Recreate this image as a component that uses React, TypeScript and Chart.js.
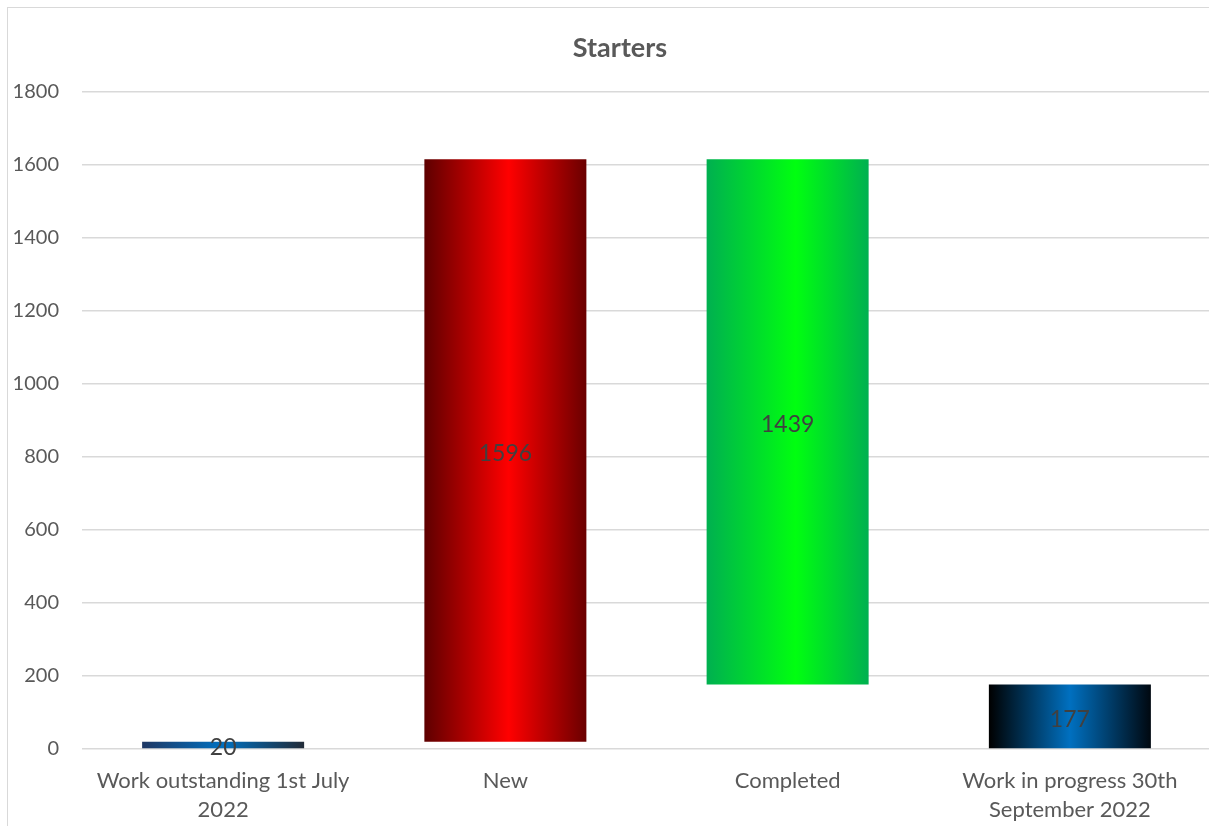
import React, { useEffect, useRef } from "react";
import { Chart, registerables } from "chart.js";

Chart.register(...registerables);

// Waterfall steps for the quarter
const categories: (string | string[])[] = [
  ["Work outstanding 1st July", "2022"],
  "New",
  "Completed",
  ["Work in progress 30th", "September 2022"],
];
const stepValues = [20, 1596, 1439, 177];
const stepKinds = ["total", "increase", "decrease", "total"];
const yTicks = [0, 200, 400, 600, 800, 1000, 1200, 1400, 1600, 1800];

// Horizontal gradient stops for each bar (edge, centre, edge)
const barStops: [number, string][][] = [
  [[0, "#1f3864"], [0.5, "#0070c0"], [1, "#222b38"]],
  [[0, "#5e0000"], [0.52, "#ff0000"], [1, "#6a0000"]],
  [[0, "#00b050"], [0.55, "#00ff10"], [1, "#00b050"]],
  [[0, "#000000"], [0.5, "#0070c0"], [1, "#000810"]],
];
const flatColors = ["#0070c0", "#ff0000", "#00ff10", "#0070c0"];

const BAR_PCT = 0.574;
const FONT = "Lato, 'Open Sans', sans-serif";
// The chart frame runs past the right edge of the page; the frame clips it
const FRAME_W = 1201;
const FRAME_H = 818;
const CANVAS_W = 1224;
const CANVAS_H = 818;

// Floating [low, high] ranges built from the running total
function buildRanges(): [number, number][] {
  const out: [number, number][] = [];
  let running = 0;
  stepValues.forEach((v, i) => {
    const kind = stepKinds[i];
    if (kind === "total") {
      running = v;
      out.push([0, v]);
    } else if (kind === "increase") {
      out.push([running, running + v]);
      running += v;
    } else {
      out.push([running - v, running]);
      running -= v;
    }
  });
  return out;
}

const valueLabels = {
  id: "valueLabels",
  afterDatasetsDraw(chart: any) {
    const ctx = chart.ctx;
    const meta = chart.getDatasetMeta(0);
    ctx.save();
    ctx.font = `23px ${FONT}`;
    ctx.fillStyle = "#404040";
    ctx.textAlign = "center";
    ctx.textBaseline = "middle";
    meta.data.forEach((bar: any, i: number) => {
      const y = (bar.y + bar.base) / 2;
      ctx.fillText(String(stepValues[i]), bar.x, y + 3);
    });
    ctx.restore();
  },
};

export default function App() {
  const canvasRef = useRef<HTMLCanvasElement | null>(null);

  useEffect(() => {
    const canvas = canvasRef.current;
    if (!canvas) return;
    const ranges = buildRanges();

    const chart = new Chart(canvas, {
      type: "bar",
      data: {
        labels: categories,
        datasets: [
          {
            data: ranges as any,
            barPercentage: BAR_PCT,
            categoryPercentage: 1,
            borderWidth: 0,
            backgroundColor: (c: any) => {
              const i = c.dataIndex;
              const chartRef = c.chart;
              const xs = chartRef.scales && chartRef.scales.x;
              if (!chartRef.chartArea || !xs || i === undefined) return flatColors[i ?? 0];
              const slot = xs.width / categories.length;
              const w = slot * BAR_PCT;
              const cx = xs.getPixelForValue(i);
              const g = chartRef.ctx.createLinearGradient(cx - w / 2, 0, cx + w / 2, 0);
              barStops[i].forEach(([o, col]) => g.addColorStop(o, col));
              return g;
            },
          },
        ],
      },
      options: {
        animation: false,
        responsive: false,
        maintainAspectRatio: false,
        devicePixelRatio: 1,
        layout: { padding: 0 },
        plugins: {
          legend: { display: false },
          tooltip: { enabled: false },
          title: {
            display: true,
            text: "Starters",
            color: "#595959",
            font: { family: FONT, size: 27, weight: "bold", lineHeight: 1.2 },
            padding: { top: 23.8, bottom: 27.8 },
          },
        },
        scales: {
          x: {
            grid: { display: false, drawTicks: false },
            border: { display: false },
            ticks: {
              color: "#595959",
              font: { family: FONT, size: 22, lineHeight: 1.295 },
              padding: 18,
              maxRotation: 0,
              autoSkip: false,
            },
            afterFit: (s: any) => {
              s.height = 77;
            },
          },
          y: {
            min: 0,
            max: 1800,
            afterBuildTicks: (s: any) => {
              s.ticks = yTicks.map((v) => ({ value: v }));
            },
            grid: { color: "#d9d9d9", lineWidth: 1.5, drawTicks: false },
            border: { display: false },
            ticks: {
              color: "#595959",
              font: { family: FONT, size: 20 },
              padding: 23,
              callback: (v: any) => String(v),
            },
            afterFit: (s: any) => {
              s.width = 74;
            },
          },
          // empty right-hand margin axis, keeps the plot clear of the frame edge
          margin: {
            type: "linear",
            position: "right",
            grid: { display: false, drawTicks: false },
            border: { display: false },
            ticks: { display: false },
            afterFit: (s: any) => {
              s.width = 21;
            },
          },
        },
      },
      plugins: [valueLabels],
    });

    return () => chart.destroy();
  }, []);

  return (
    <div
      style={{
        position: "absolute",
        left: 7,
        top: 7,
        width: FRAME_W + 1,
        height: FRAME_H + 1,
        borderLeft: "1px solid #d9d9d9",
        borderTop: "1px solid #d9d9d9",
        background: "#ffffff",
        boxSizing: "border-box",
        overflow: "hidden",
      }}
    >
      <canvas
        ref={canvasRef}
        width={CANVAS_W}
        height={CANVAS_H}
        style={{ display: "block", width: CANVAS_W, height: CANVAS_H }}
      />
    </div>
  );
}
